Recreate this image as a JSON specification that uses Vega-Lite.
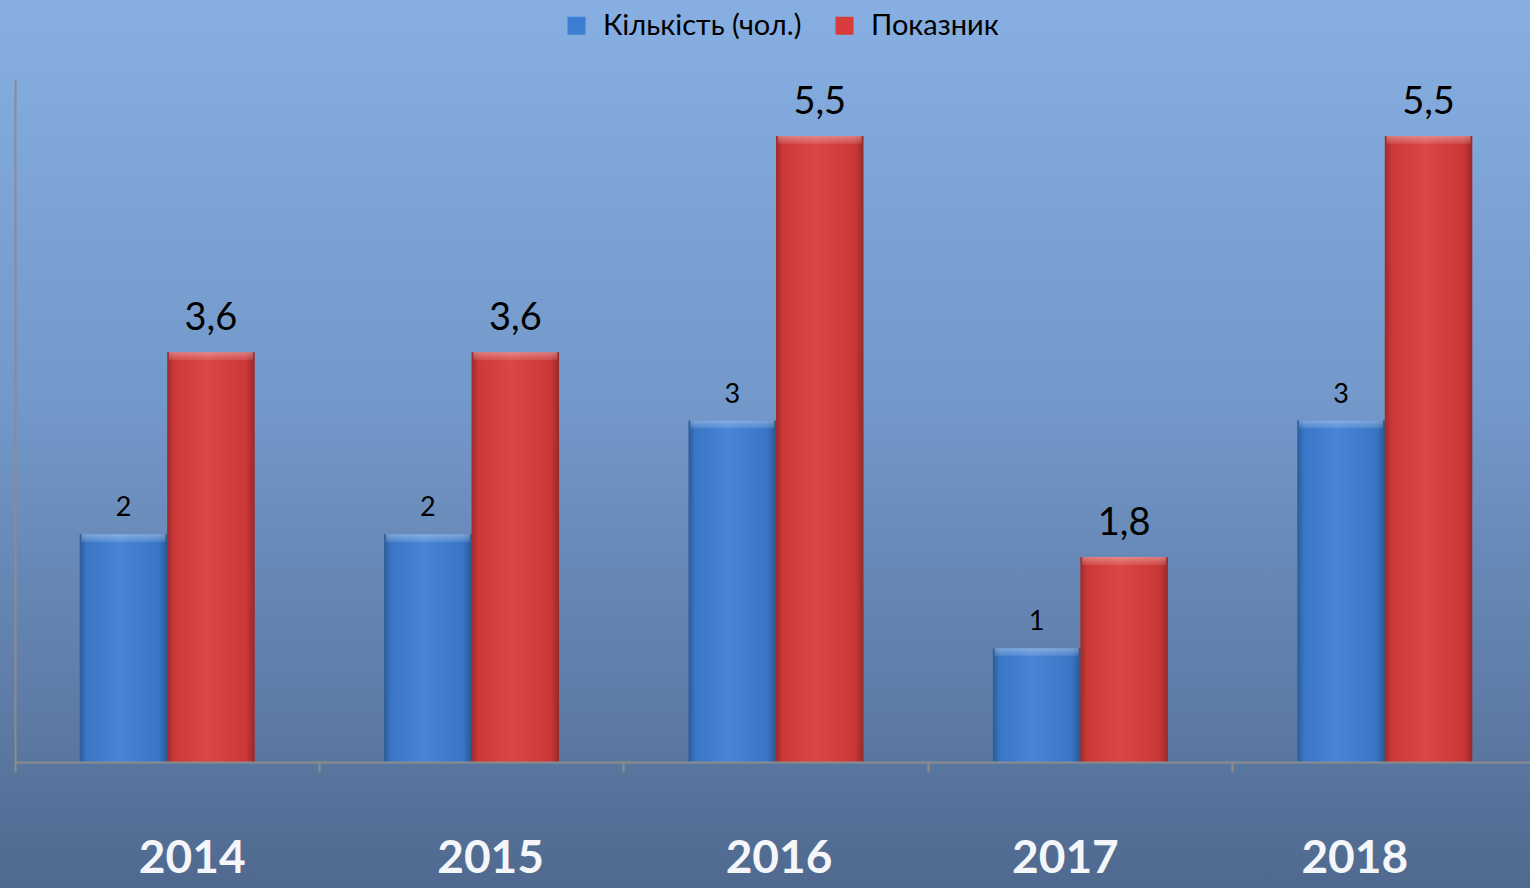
{
  "$schema": "https://vega.github.io/schema/vega-lite/v6.json",
  "width": 1530,
  "height": 888,
  "autosize": {"type": "none"},
  "padding": 0,
  "background": "#6f8fbf",
  "config": {
    "view": {"stroke": null},
    "locale": {"number": {"decimal": ",", "thousands": " ", "grouping": [3], "currency": ["", ""]}}
  },
  "data": {
    "values": [
      {"year": "2014", "series": "Кількість (чол.)", "value": 2},
      {"year": "2014", "series": "Показник", "value": 3.6},
      {"year": "2015", "series": "Кількість (чол.)", "value": 2},
      {"year": "2015", "series": "Показник", "value": 3.6},
      {"year": "2016", "series": "Кількість (чол.)", "value": 3},
      {"year": "2016", "series": "Показник", "value": 5.5},
      {"year": "2017", "series": "Кількість (чол.)", "value": 1},
      {"year": "2017", "series": "Показник", "value": 1.8},
      {"year": "2018", "series": "Кількість (чол.)", "value": 3},
      {"year": "2018", "series": "Показник", "value": 5.5}
    ]
  },
  "layer": [
    {
      "data": {"values": [{}]},
      "mark": {
        "type": "rect",
        "color": {
          "gradient": "linear", "x1": 0, "y1": 0, "x2": 0, "y2": 1,
          "stops": [
            {"offset": 0, "color": "#87afe2"},
            {"offset": 0.45, "color": "#7398ca"},
            {"offset": 0.85, "color": "#5a77a0"},
            {"offset": 1, "color": "#4f698f"}
          ]
        }
      },
      "encoding": {}
    },
    {
      "mark": {"type": "bar"},
      "encoding": {
        "x": {
          "field": "year", "type": "ordinal",
          "scale": {"range": [15, 1537], "paddingInner": 0, "paddingOuter": 0},
          "axis": {
            "title": null, "orient": "bottom", "offset": -126, "bandPosition": 0, "zindex": 1,
            "tickSize": 10, "tickColor": "#8c8c8c", "tickWidth": 2,
            "domainColor": "#8c8c8c", "domainWidth": 2,
            "labelFont": "Lato", "labelFontSize": 46, "labelFontWeight": "bold",
            "labelColor": "#f4f6fa", "labelAngle": 0, "labelPadding": 64,
            "labelBaseline": "top",
            "labelOffset": {"expr": "[25,19,3,-15,-30][indexof(['2014','2015','2016','2017','2018'], datum.value)]"}
          }
        },
        "xOffset": {
          "field": "series",
          "scale": {"domain": ["Кількість (чол.)", "Показник"], "paddingOuter": 0.74, "paddingInner": 0}
        },
        "y": {
          "field": "value", "type": "quantitative",
          "scale": {"domain": [0, 6], "range": [762, 79], "nice": false, "zero": true},
          "axis": {"title": null, "labels": false, "ticks": false, "grid": false, "zindex": 1, "domainColor": "#8c8c8c", "domainWidth": 2, "offset": -15}
        },
        "color": {
          "field": "series", "type": "nominal",
          "scale": {"domain": ["Кількість (чол.)", "Показник"], "range": ["#3d7dd2", "#d83b3b"]},
          "legend": {
            "title": null, "orient": "none", "legendX": 562, "legendY": 11, "direction": "horizontal",
            "symbolType": "square", "symbolSize": 324, "symbolStrokeWidth": 0,
            "labelFont": "Lato", "labelFontSize": 29, "labelColor": "#000000", "labelLimit": 500,
            "labelOffset": 12, "columnPadding": 28
          }
        }
      }
    },
    {
      "mark": {
        "type": "bar",
        "color": {
          "gradient": "linear", "x1": 0, "y1": 0, "x2": 1, "y2": 0,
          "stops": [
            {"offset": 0, "color": "rgba(0,0,0,0.28)"},
            {"offset": 0.08, "color": "rgba(0,0,0,0.05)"},
            {"offset": 0.45, "color": "rgba(255,255,255,0.06)"},
            {"offset": 0.9, "color": "rgba(0,0,0,0.06)"},
            {"offset": 1, "color": "rgba(0,0,0,0.3)"}
          ]
        }
      },
      "encoding": {
        "x": {"field": "year", "type": "ordinal"},
        "xOffset": {"field": "series"},
        "y": {"field": "value", "type": "quantitative"}
      }
    },
    {
      "mark": {
        "type": "tick", "orient": "horizontal", "thickness": 8, "size": 84, "yOffset": 4,
        "color": {
          "gradient": "linear", "x1": 0, "y1": 0, "x2": 0, "y2": 1,
          "stops": [
            {"offset": 0, "color": "rgba(255,255,255,0.35)"},
            {"offset": 1, "color": "rgba(255,255,255,0.08)"}
          ]
        },
        "opacity": 1
      },
      "encoding": {
        "x": {"field": "year", "type": "ordinal"},
        "xOffset": {"field": "series"},
        "y": {"field": "value", "type": "quantitative"}
      }
    },
    {
      "transform": [{"filter": "datum.series === 'Кількість (чол.)'"}],
      "mark": {"type": "text", "font": "Lato", "fontSize": 27, "color": "#000000", "baseline": "alphabetic", "dy": -18},
      "encoding": {
        "x": {"field": "year", "type": "ordinal"},
        "xOffset": {"field": "series"},
        "y": {"field": "value", "type": "quantitative"},
        "text": {"field": "value", "type": "quantitative", "format": "d"}
      }
    },
    {
      "transform": [{"filter": "datum.series === 'Показник'"}],
      "mark": {"type": "text", "font": "Lato", "fontSize": 38, "color": "#000000", "baseline": "alphabetic", "dy": -22},
      "encoding": {
        "x": {"field": "year", "type": "ordinal"},
        "xOffset": {"field": "series"},
        "y": {"field": "value", "type": "quantitative"},
        "text": {"field": "value", "type": "quantitative", "format": ".1f"}
      }
    }
  ]
}
